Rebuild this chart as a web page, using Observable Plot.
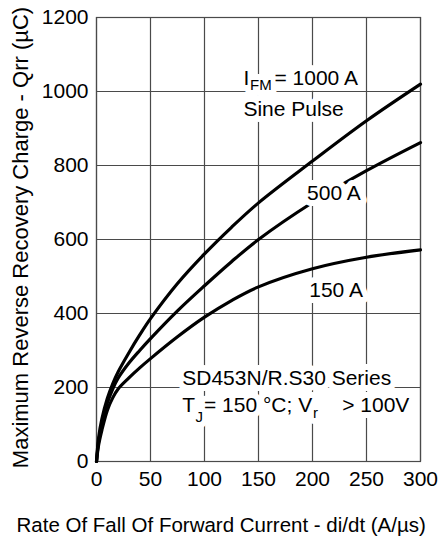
<!DOCTYPE html>
<html><head><meta charset="utf-8">
<script src="https://cdn.jsdelivr.net/npm/d3@7"></script>
<script src="https://cdn.jsdelivr.net/npm/@observablehq/plot@0.6"></script>
<style>body{margin:0;background:#fff} svg{display:block}</style>
</head><body><div id="chart"></div>
<script>
// di/dt (A/µs)
const didt = [0, 2, 5, 10, 15, 20, 30, 40, 50, 75, 100, 125, 150, 200, 250, 300];
// Qrr (µC) per IFM
const qrr1000 = [0, 65, 115, 170, 210, 242, 294, 342, 386, 481, 561, 633, 699, 812, 921, 1020];
const qrr500  = [0, 55, 100, 158, 196, 225, 266, 300, 332, 407, 475, 540, 600, 700, 786, 862];
const qrr150  = [0, 45, 85, 138, 172, 196, 226, 253, 278, 337, 390, 435, 472, 521, 552, 572];
const seriesNames = ["1000 A", "500 A", "150 A"];

const xTicks = [0, 50, 100, 150, 200, 250, 300];
const yTicks = [0, 200, 400, 600, 800, 1000, 1200];
const xTitle = "Rate Of Fall Of Forward Current - di/dt (A/\u00b5s)";
const yTitle = "Maximum Reverse Recovery Charge - Qrr (\u00b5C)";

// annotation pieces: text, x (data), y (data), size
const noteText = ["I", "FM", "= 1000 A", "Sine Pulse", "500 A", "150 A",
                  "SD453N/R.S30 Series", "T", "J", "= 150 \u00b0C; V", "r", "> 100V"];
const noteX = [136, 142.1, 164.8, 136, 195, 197, 79.4, 79.4, 91.7, 99.5, 200.5, 227.5];
const noteY = [1035, 1016, 1035, 953, 725, 464, 224, 153, 120, 153, 130, 153];
const noteSize = [21, 15, 21, 21, 21, 21, 21, 21, 15, 21, 15, 21];

const rows = [];
[qrr1000, qrr500, qrr150].forEach((arr, k) =>
  arr.forEach((q, i) => rows.push({x: didt[i], q, s: seriesNames[k]})));
const notes = noteText.map((t, i) => ({t, x: noteX[i], y: noteY[i], size: noteSize[i]}));

const font = "Liberation Sans, Arial, sans-serif";
const chart = Plot.plot({
  width: 441, height: 540,
  marginLeft: 96, marginRight: 21, marginTop: 17, marginBottom: 79,
  style: {fontFamily: font, fontSize: "21px", color: "#000", background: "#fff"},
  x: {domain: [0, 300]},
  y: {domain: [0, 1200]},
  marks: [
    Plot.ruleX(xTicks, {x: d => d, y1: 0, y2: 1200, stroke: "#4a4a4a", strokeWidth: 1.2}),
    Plot.ruleY(yTicks, {y: d => d, x1: 0, x2: 300, stroke: "#4a4a4a", strokeWidth: 1.2}),
    Plot.frame({stroke: "#4a4a4a", strokeWidth: 1.2}),
    Plot.axisX(xTicks, {tickSize: 0, tickPadding: 10, label: null, fontSize: 21, tickFormat: d => String(d)}),
    Plot.axisY(yTicks, {tickSize: 0, tickPadding: 8, label: null, fontSize: 21, tickFormat: d => String(d)}),
    Plot.line(rows, {x: "x", y: "q", z: "s", stroke: "#000", strokeWidth: 3.2, curve: "catmull-rom"}),
    Plot.text(notes, {x: "x", y: "y", text: "t", textAnchor: "start", lineAnchor: "middle",
      fontSize: "size", fill: "white", stroke: "white", strokeWidth: 12, strokeLinejoin: "round"}),
    Plot.text(notes, {x: "x", y: "y", text: "t", textAnchor: "start", lineAnchor: "middle",
      fontSize: "size", fill: "black"}),
    Plot.text([xTitle], {frameAnchor: "bottom-left", text: d => d, textAnchor: "start",
      lineAnchor: "middle", dx: -80, dy: 64, fontSize: 20.5, fill: "black"}),
    Plot.text([yTitle], {frameAnchor: "left", text: d => d, textAnchor: "middle",
      lineAnchor: "middle", rotate: -90, dx: -76, dy: -2, fontSize: 22, fill: "black"})
  ]
});
document.getElementById("chart").append(chart);
</script>
</body></html>
